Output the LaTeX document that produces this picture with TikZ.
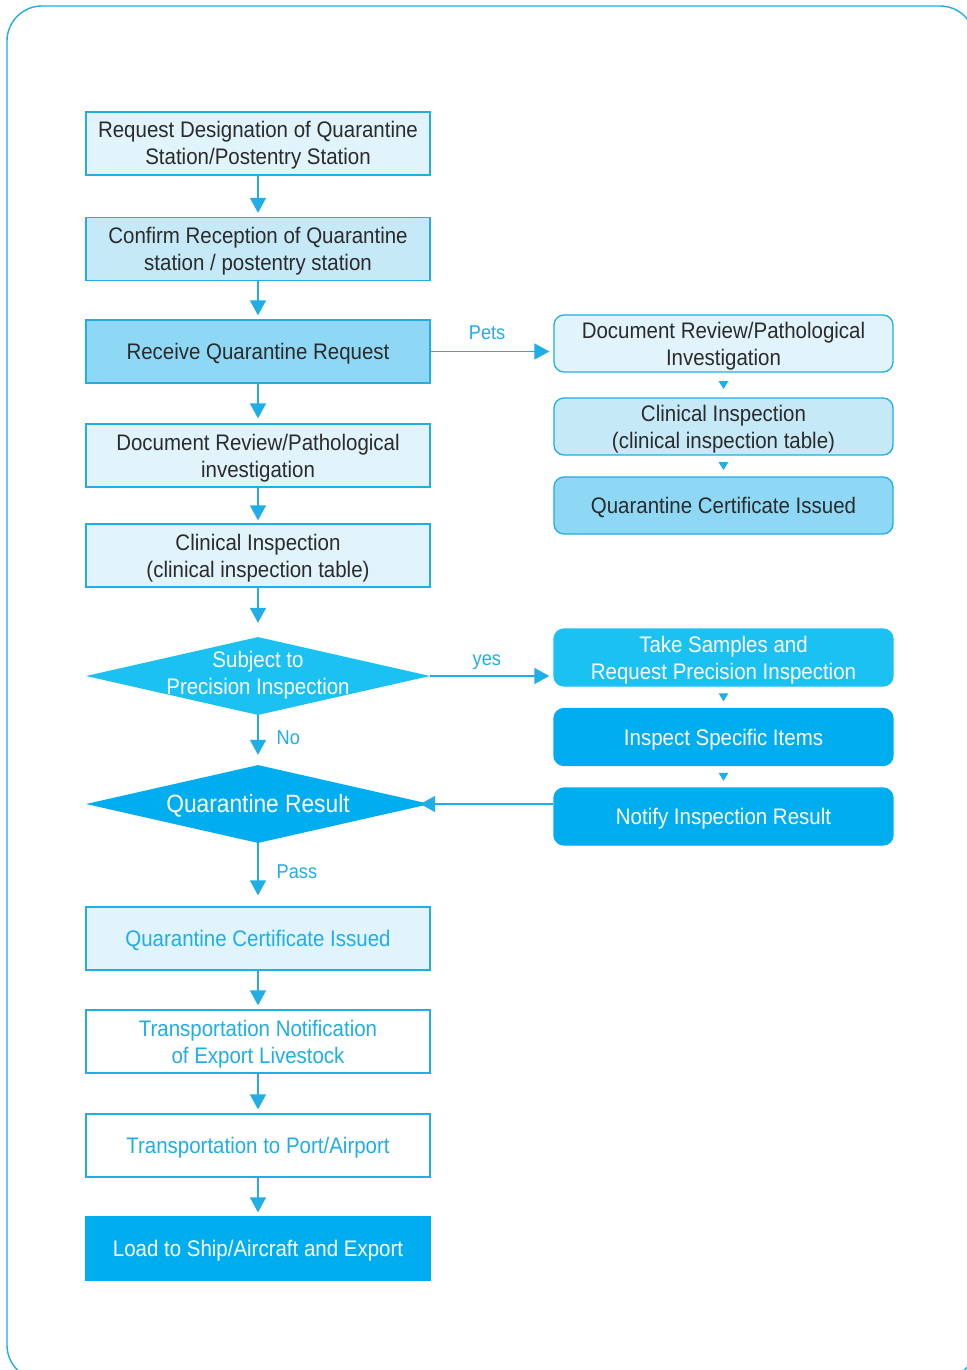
\documentclass[tikz,border=0pt]{standalone}
\usepackage{fontspec}
\setmainfont{Liberation Sans}[FakeStretch=0.91]
\usetikzlibrary{arrows.meta,shapes.geometric,calc}
\definecolor{lineblue}{HTML}{1FAEE6}
\definecolor{paleblue}{HTML}{E1F3FB}
\definecolor{midblue}{HTML}{C6E9F8}
\definecolor{strongblue}{HTML}{8ED8F5}
\definecolor{brightblue}{HTML}{1AC1F1}
\definecolor{deepblue}{HTML}{00AEEF}
\definecolor{inkgray}{HTML}{2B2B2B}
% centred lines, set so that the capitals sit in the middle of the box
\newcommand\boxtext[1]{\raisebox{-2.6pt}[\height][\depth]{\begin{tabular}{@{}c@{}}#1\end{tabular}}}
\begin{document}
\begin{tikzpicture}[x=1pt,y=-1pt,
  every node/.style={font=\fontsize{22.5}{27}\selectfont, align=center, inner sep=0pt},
  lbox/.style={draw=lineblue, line width=1.3pt, minimum width=344pt, minimum height=63pt, text=inkgray},
  rbox/.style={draw=lineblue, line width=1.3pt, rounded corners=10pt, minimum width=339pt, minimum height=57pt, text=inkgray},
  dia/.style={diamond, minimum width=344pt, minimum height=78pt},
  flow/.style={draw=lineblue, line width=1.4pt, -{Triangle[width=16pt,length=15pt]}},
  tag/.style={text=lineblue, font=\fontsize{20}{23}\selectfont},
  tick/.style={fill=lineblue}
]
\useasboundingbox (0,0) rectangle (966,1370);
% outer frame
\draw[lineblue, line width=1.4pt, rounded corners=35pt] (7,6) rectangle (975,1380);

% main column
\node[lbox, fill=paleblue] (a1) at (258,143.5) {\boxtext{Request Designation of Quarantine\\Station/Postentry Station}};
\node[lbox, fill=midblue] (a2) at (258,249) {\boxtext{Confirm Reception of Quarantine\\station / postentry station}};
\node[lbox, fill=strongblue] (a3) at (258,351.5) {\boxtext{Receive Quarantine Request}};
\node[lbox, fill=paleblue] (a4) at (258,455.5) {\boxtext{Document Review/Pathological\\investigation}};
\node[lbox, fill=paleblue] (a5) at (258,555.5) {\boxtext{Clinical Inspection\\(clinical inspection table)}};
\node[dia, fill=brightblue] (d1) at (258,676) {};
\node[text=white] (d1t) at (258,672.5) {\boxtext{Subject to\\Precision Inspection}};
\node[dia, fill=deepblue] (d2) at (258,804) {};
\node[text=white, font=\fontsize{25}{29}\selectfont] (d2t) at (258,804) {\boxtext{Quarantine Result}};
\node[lbox, fill=paleblue, text=lineblue] (a6) at (258,938.5) {\boxtext{Quarantine Certificate Issued}};
\node[lbox, fill=white, text=lineblue] (a7) at (258,1041.5) {\boxtext{Transportation Notification\\of Export Livestock}};
\node[lbox, fill=white, text=lineblue] (a8) at (258,1145.5) {\boxtext{Transportation to Port/Airport}};
\node[lbox, fill=deepblue, draw=deepblue, text=white] (a9) at (258,1248.5) {\boxtext{Load to Ship/Aircraft and Export}};

% side column
\node[rbox, fill=paleblue] (r1) at (723.5,343.5) {\boxtext{Document Review/Pathological\\Investigation}};
\node[rbox, fill=midblue] (r2) at (723.5,426.5) {\boxtext{Clinical Inspection\\(clinical inspection table)}};
\node[rbox, fill=strongblue] (r3) at (723.5,505.5) {\boxtext{Quarantine Certificate Issued}};
\node[rbox, fill=brightblue, draw=brightblue, text=white] (r4) at (723.5,657.5) {\boxtext{Take Samples and\\Request Precision Inspection}};
\node[rbox, fill=deepblue, draw=deepblue, text=white] (r5) at (723.5,737) {\boxtext{Inspect Specific Items}};
\node[rbox, fill=deepblue, draw=deepblue, text=white] (r6) at (723.5,816.5) {\boxtext{Notify Inspection Result}};

% connectors of the main column
\draw[flow, shorten >=4pt] (a1.south) -- (a2.north);
\draw[flow, shorten >=4pt] (a2.south) -- (a3.north);
\draw[flow, shorten >=5pt] (a3.south) -- (a4.north);
\draw[flow, shorten >=3pt] (a4.south) -- (a5.north);
\draw[flow, shorten >=14pt] (a5.south) -- (d1.north);
\draw[flow, shorten >=10pt] (d1.south) -- (d2.north) node[pos=0.45, right=18pt, tag] (lno) {No};
\draw[flow, shorten >=11pt] (d2.south) -- (a6.north) node[pos=0.45, right=18pt, tag] (lpass) {Pass};
\draw[flow, shorten >=4pt] (a6.south) -- (a7.north);
\draw[flow, shorten >=4pt] (a7.south) -- (a8.north);
\draw[flow, shorten >=4pt] (a8.south) -- (a9.north);

% branches to the side column
\draw[flow, shorten >=4pt] (a3.east) -- (a3.east -| r1.west) node[pos=0.46, anchor=base, yshift=12pt, tag] (lpets) {Pets};
\draw[flow, shorten >=4pt] (d1.east) -- (d1.east -| r4.west) node[pos=0.46, anchor=base, yshift=11pt, tag] (lyes) {yes};
\draw[flow, shorten >=-10pt] (r6.west |- d2.east) -- (d2.east);

% small pointers inside the side column
\foreach \u/\v in {r1/r2, r2/r3, r4/r5, r5/r6}{
  \fill[tick] ($(\u.south)!0.5!(\v.north)$) ++(-5,-4) -- ++(10,0) -- ++(-5,8) -- cycle;
}
\end{tikzpicture}
\end{document}
